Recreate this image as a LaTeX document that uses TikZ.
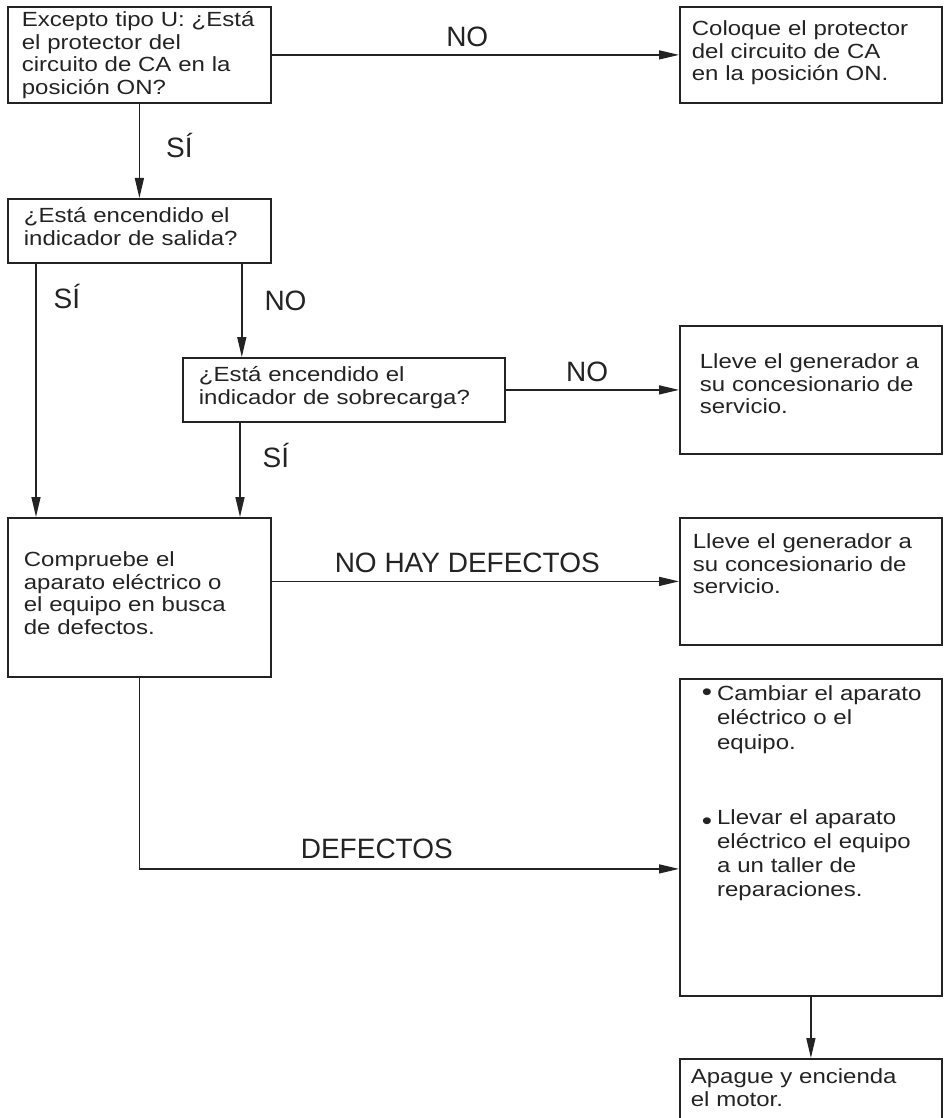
\documentclass[tikz,border=0pt]{standalone}
\usepackage{fontspec}
\setmainfont{Liberation Sans}
\newfontfamily\boxfam[FakeStretch=1.17]{Liberation Sans}
\usetikzlibrary{arrows.meta,positioning}
\newcommand{\boxfont}{\boxfam\fontsize{20.5}{22.5}\selectfont}
\newcommand{\lblfont}{\fontsize{28}{30}\selectfont}
\newcommand{\bul}{{\fontsize{25}{25}\selectfont\textbullet}}
\definecolor{inkgray}{RGB}{35,35,35}

\begin{document}
\begin{tikzpicture}[x=1pt,y=-1pt,
    box/.style={draw=inkgray,line width=1.8pt,anchor=north west,align=left,
                inner ysep=0pt,font=\boxfont,text=inkgray},
    flow/.style={draw=inkgray,line width=1.4pt,-{Triangle[length=20pt,width=9pt]}},
    lbl/.style={font=\lblfont,text=inkgray,inner sep=0pt}]
  \useasboundingbox (0,0) rectangle (943,1118);
  % left column: questions
  \node[box,inner xsep=14pt,text width=235pt,text height=20pt,text depth=76pt]
    (acchk) at (7,6) {Excepto tipo U: ¿Está\\el protector del\\circuito de CA en la\\posición ON?};
  \node[box,inner xsep=16pt,text width=231pt,text height=24pt,text depth=40pt]
    (outlamp) at (7,198) {¿Está encendido el\\indicador de salida?};
  \node[box,inner xsep=16pt,text width=290pt,text height=24pt,text depth=40pt]
    (ovlamp) at (182,357) {¿Está encendido el\\indicador de sobrecarga?};
  \node[box,inner xsep=16pt,text width=231pt,text height=49pt,text depth=110pt]
    (check) at (7,517) {Compruebe el\\aparato eléctrico o\\el equipo en busca\\de defectos.};
  % right column: actions
  \node[box,inner xsep=12pt,text width=238pt,text height=29pt,text depth=67pt]
    (acon) at (679,6) {Coloque el protector\\del circuito de CA\\en la posición ON.};
  \node[box,inner xsep=20pt,text width=222pt,text height=43pt,text depth=85pt]
    (dealer1) at (679,325) {Lleve el generador a\\su concesionario de\\servicio.};
  \node[box,inner xsep=13pt,text width=236pt,text height=31pt,text depth=96pt]
    (dealer2) at (679,517) {Lleve el generador a\\su concesionario de\\servicio.};
  \node[box,inner xsep=22pt,text width=218pt,text height=22pt,text depth=295pt]
    (repair) at (679,678) {\renewcommand{\arraystretch}{1.07}%
      \begin{tabular}[t]{@{}l@{\hspace{5pt}}l@{}}
        \bul & Cambiar el aparato\\
             & eléctrico o el\\
             & equipo.\\[51pt]
        \raisebox{-5pt}[0pt][0pt]{\bul} & Llevar el aparato\\
             & eléctrico el equipo\\
             & a un taller de\\
             & reparaciones.
      \end{tabular}};
  \node[box,inner xsep=11pt,text width=240pt,text height=25pt,text depth=37pt]
    (restart) at (679,1058) {Apague y encienda\\el motor.};

  \draw[flow] (acchk.east) -- (acon.west) node[lbl,pos=0.48,above=7pt] {NO};
  \draw[flow] (acchk.south) -- (outlamp.north) node[lbl,pos=0.44,right=26pt] {SÍ};
  \draw[flow] ([xshift=29pt]outlamp.south west) -- ([xshift=29pt]check.north west)
    node[lbl,pos=0.13,right=17pt] {SÍ};
  \draw[flow] ([xshift=-30pt]outlamp.south east) -- ([xshift=-30pt]outlamp.south east |- ovlamp.north)
    node[lbl,pos=0.4,right=22pt] {NO};
  \draw[flow] (ovlamp.east) -- (dealer1.west) node[lbl,pos=0.47,above=7pt] {NO};
  \draw[flow] ([xshift=58pt]ovlamp.south west) -- ([xshift=58pt]ovlamp.south west |- check.north)
    node[lbl,pos=0.35,right=22pt] {SÍ};
  \draw[flow] (check.east |- dealer2.west) -- (dealer2.west)
    node[lbl,pos=0.48,above=8pt] {NO HAY DEFECTOS};
  \draw[flow] (check.south) |- ([yshift=-31.5pt]repair.west)
    node[lbl,pos=0.72,above=9pt] {DEFECTOS};
  \draw[flow] (repair.south) -- (restart.north);
\end{tikzpicture}
\end{document}
